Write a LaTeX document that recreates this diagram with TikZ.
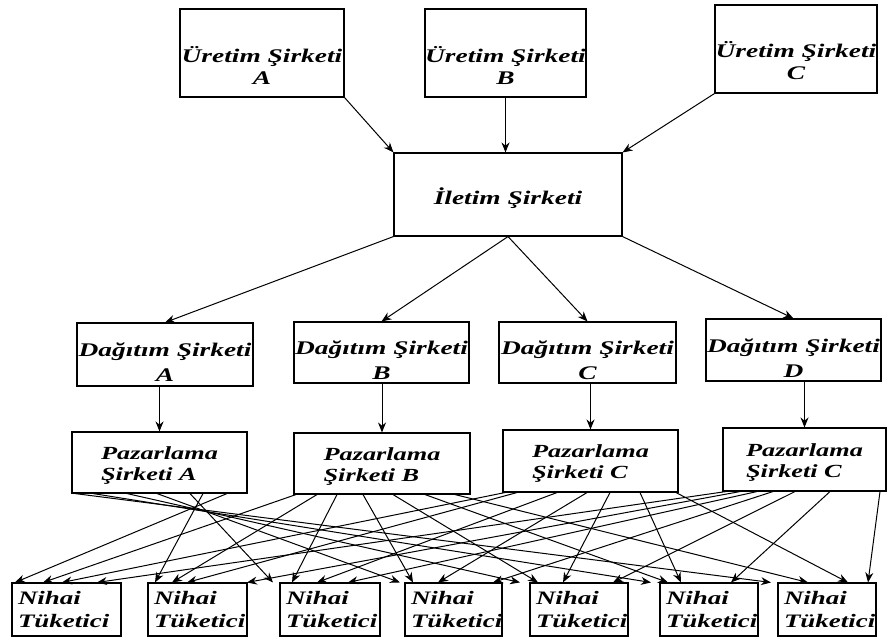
\documentclass[tikz,border=0pt]{standalone}
\usepackage{fontspec}
\setmainfont{Liberation Serif}[FakeStretch=1.42, BoldItalicFeatures={FakeStretch=1.42}]
\usetikzlibrary{arrows.meta,calc}
\newcommand{\fnt}{\fontsize{18.5}{21}\selectfont\bfseries\itshape}
\newcommand{\fntn}{\fontsize{19}{23}\selectfont\bfseries\itshape}
\newcommand{\fntb}{\fontsize{19.3}{22}\selectfont\bfseries\itshape}
\newcommand{\fntc}{\fontsize{19.3}{25}\selectfont\bfseries\itshape}
\tikzset{
  bx/.style={draw, line width=1.1pt, inner sep=0pt},
  lbl/.style={inner sep=0pt, align=center},
  plbl/.style={inner sep=0pt, align=left, font=\fnt, yshift=-3pt},
  nbx/.style={draw, line width=1.1pt, inner xsep=6pt, inner ysep=0pt, align=left, font=\fntn, minimum height=53pt},
  arr/.style={line width=1pt, -{Stealth[length=10pt,width=8pt]}}
}
\begin{document}
\begin{tikzpicture}[x=1pt,y=-1pt]
\useasboundingbox (0,0) rectangle (888,640);
% top row
\node[bx, minimum width=164pt, minimum height=88pt,
  label={[lbl, font=\fntb, yshift=-12pt]center:Üretim Şirketi\\A}] (uA) at (262,53) {};
\node[bx, minimum width=161pt, minimum height=88pt,
  label={[lbl, font=\fntb, yshift=-12pt]center:Üretim Şirketi\\B}] (uB) at (505.5,53) {};
\node[bx, minimum width=162pt, minimum height=88pt,
  label={[lbl, font=\fntb, yshift=-12pt]center:Üretim Şirketi\\C}] (uC) at (796,49) {};
\node[bx, minimum width=228pt, minimum height=83pt,
  label={[lbl, font=\fntb, yshift=-4pt]center:İletim Şirketi}] (il) at (508,194.5) {};
% distribution
\node[bx, minimum width=176pt, minimum height=63pt,
  label={[lbl, font=\fntc, yshift=-8pt]center:Dağıtım Şirketi\\A}] (dA) at (165,354.5) {};
\node[bx, minimum width=175pt, minimum height=61pt,
  label={[lbl, font=\fntc, yshift=-8pt]center:Dağıtım Şirketi\\B}] (dB) at (381.5,352.5) {};
\node[bx, minimum width=177pt, minimum height=61pt,
  label={[lbl, font=\fntc, yshift=-8pt]center:Dağıtım Şirketi\\C}] (dC) at (587.5,352.5) {};
\node[bx, minimum width=175pt, minimum height=62pt,
  label={[lbl, font=\fntc, yshift=-8pt]center:Dağıtım Şirketi\\D}] (dD) at (793.5,350) {};
% marketing
\node[bx, minimum width=175pt, minimum height=61pt,
  label={[plbl]center:Pazarlama\\Şirketi A}] (pA) at (159.5,462.5) {};
\node[bx, minimum width=176pt, minimum height=61pt,
  label={[plbl]center:Pazarlama\\Şirketi B}] (pB) at (382,463.5) {};
\node[bx, minimum width=175pt, minimum height=62pt,
  label={[plbl]center:Pazarlama\\Şirketi C}] (pC) at (590.5,461) {};
\node[bx, minimum width=163pt, minimum height=63pt,
  label={[plbl]center:Pazarlama\\Şirketi C}] (pD) at (804.5,459.5) {};
% consumers
\node[nbx, text width=97pt] (n1) at (66.5,609.5) {Nihai\\Tüketici};
\node[nbx, text width=87pt] (n2) at (197.5,609.5) {Nihai\\Tüketici};
\node[nbx, text width=88pt] (n3) at (330,609.5) {Nihai\\Tüketici};
\node[nbx, text width=85pt] (n4) at (453.5,609.5) {Nihai\\Tüketici};
\node[nbx, text width=86pt] (n5) at (579,609.5) {Nihai\\Tüketici};
\node[nbx, text width=86pt] (n6) at (709,609.5) {Nihai\\Tüketici};
\node[nbx, text width=86pt] (n7) at (827,609.5) {Nihai\\Tüketici};
% top arrows
\draw[arr] (uA.south east) -- (il.north west);
\draw[arr] (uB.south) -- (uB.south |- il.north);
\draw[arr] (uC.south west) -- (il.north east);
\draw[arr] (il.south west) -- (dA.north);
\draw[arr] (il.south) -- (dB.north);
\draw[arr] (il.south) -- (dC.north);
\draw[arr] (il.south east) -- (dD.north);
\draw[arr] (pA.north |- dA.south) -- (pA.north);
\draw[arr] (pB.north |- dB.south) -- (pB.north);
\draw[arr] (pC.north |- dC.south) -- (pC.north);
\draw[arr] (pD.north |- dD.south) -- (pD.north);
% marketing -> consumers
\foreach \p/\sa/\sb/\sc/\sd/\se/\sf/\sg/\ea/\eb/\ec/\ed/\ee/\ef/\eg in {
  pA/227/203/190/157/127/93/75/15/155/273/400/520/651/771,
  pB/296/317/337/363/393/425/455/43/172/292/413/538/668/808,
  pC/505/517/557/587/610/640/676/62/187/317/438/563/681/848,
  pD/726/740/757/773/795/830/880/97/247/348/493/613/731/868}{
  \draw[arr] (\p.south -| \sa,0) -- (n1.north -| \ea,0);
  \draw[arr] (\p.south -| \sb,0) -- (n2.north -| \eb,0);
  \draw[arr] (\p.south -| \sc,0) -- (n3.north -| \ec,0);
  \draw[arr] (\p.south -| \sd,0) -- (n4.north -| \ed,0);
  \draw[arr] (\p.south -| \se,0) -- (n5.north -| \ee,0);
  \draw[arr] (\p.south -| \sf,0) -- (n6.north -| \ef,0);
  \draw[arr] (\p.south -| \sg,0) -- (n7.north -| \eg,0);
}
\end{tikzpicture}
\end{document}
